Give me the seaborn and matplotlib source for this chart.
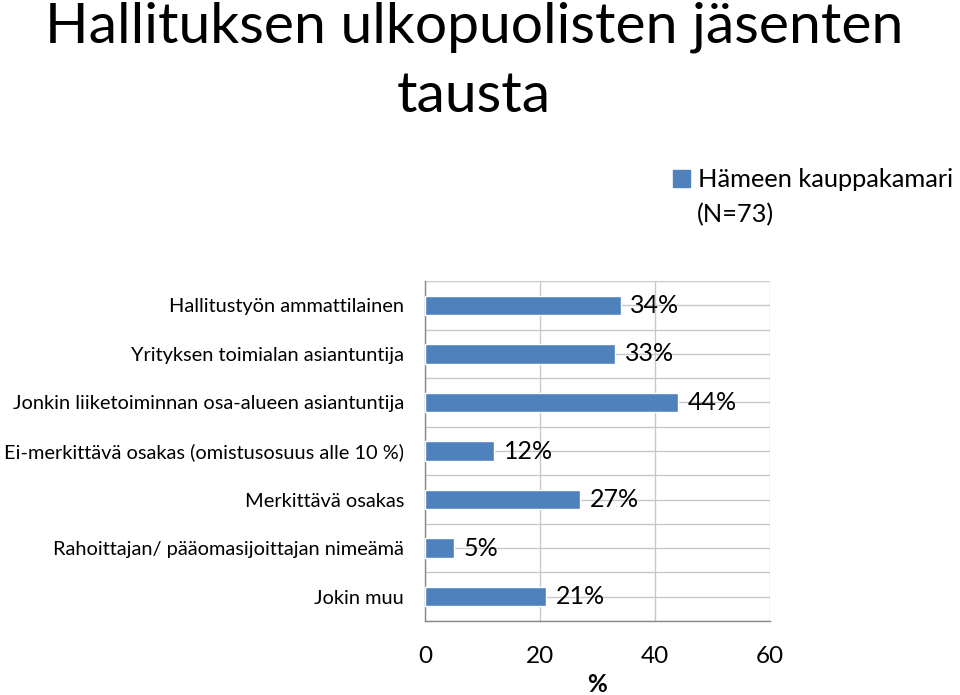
import matplotlib
matplotlib.use("Agg")
import matplotlib.pyplot as plt
import seaborn as sns
import pandas as pd
import numpy as np
from matplotlib.patches import Patch

categories = [
    "Hallitustyön ammattilainen",
    "Yrityksen toimialan asiantuntija",
    "Jonkin liiketoiminnan osa-alueen asiantuntija",
    "Ei-merkittävä osakas (omistusosuus alle 10 %)",
    "Merkittävä osakas",
    "Rahoittajan/ pääomasijoittajan nimeämä",
    "Jokin muu",
]
values = [34, 33, 44, 12, 27, 5, 21]
value_labels = ["34%", "33%", "44%", "12%", "27%", "5%", "21%"]
x_ticks = [0, 20, 40, 60]
series_name = "Hämeen kauppakamari"
series_note = "(N=73)"
title = "Hallituksen ulkopuolisten jäsenten\ntausta"

sns.set_theme(style="white")
plt.rcParams["font.family"] = ["Lato", "DejaVu Sans"]
plt.rcParams["text.color"] = "black"
plt.rcParams["xtick.color"] = "black"
plt.rcParams["ytick.color"] = "black"
plt.rcParams["axes.labelcolor"] = "black"

df = pd.DataFrame({"cat": categories, "val": values})

fig = plt.figure(figsize=(9.6, 6.95), dpi=100)
ax = fig.add_axes([425 / 960, 1 - 621 / 695, (770 - 425) / 960, (621 - 281) / 695])

color = "#4F81BD"
sns.barplot(data=df, x="val", y="cat", orient="h", color=color, width=0.4,
            saturation=1, ax=ax, zorder=3)

ax.set_xlim(0, 60)
ax.set_ylim(len(categories) - 0.5, -0.5)
ax.set_xticks(x_ticks)
ax.set_xticklabels([str(t) for t in x_ticks], fontsize=17.5)
ax.set_yticks(range(len(categories)))
ax.set_yticklabels(categories, fontsize=14.4)
ax.set_yticks(np.arange(-0.5, len(categories), 1.0), minor=True)
ax.tick_params(axis="y", which="major", length=0, pad=15)
ax.tick_params(axis="y", which="minor", length=5, color="#888888", width=1)
ax.tick_params(axis="x", which="major", length=5, color="#888888", width=1, pad=13)

grid_col = "#C8C8C8"
ax.grid(True, axis="x", which="major", color=grid_col, linewidth=1, zorder=0)
ax.grid(True, axis="y", which="major", color=grid_col, linewidth=1, zorder=0)
ax.grid(True, axis="y", which="minor", color=grid_col, linewidth=1, zorder=0)
ax.set_axisbelow(True)

for s in ["top", "right"]:
    ax.spines[s].set_visible(False)
for s in ["left", "bottom"]:
    ax.spines[s].set_color("#888888")
    ax.spines[s].set_linewidth(1)

for i, (v, lab) in enumerate(zip(values, value_labels)):
    ax.text(v + 1.7, i, lab, va="center", ha="left", fontsize=18, color="black", zorder=4)

ax.set_ylabel("")
ax.set_xlabel("%", fontsize=17.5, fontweight="bold", labelpad=4)

# legend
handle = Patch(facecolor=color, edgecolor=color)
fig.legend([handle], [series_name], loc="upper left", bbox_to_anchor=(673 / 960, 1 - 168 / 695),
           frameon=False, fontsize=18.3, handlelength=0.65, handleheight=0.65,
           handletextpad=0.35, borderaxespad=0, borderpad=0)
fig.text(697 / 960, 1 - 215 / 695, series_note, ha="left", va="center", fontsize=18.3)

fig.text(0.494, 1 - 62 / 695, title, ha="center", va="center", fontsize=41,
         linespacing=1.45, color="black")

fig.savefig("out.png", dpi=100)
